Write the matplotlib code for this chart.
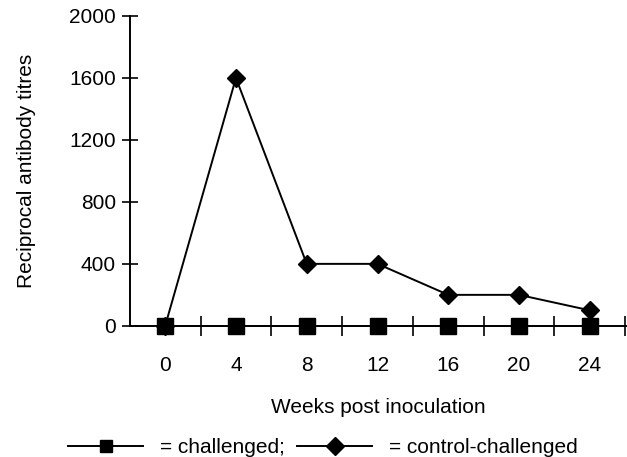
import matplotlib
matplotlib.use('Agg')
import matplotlib.pyplot as plt
from matplotlib.lines import Line2D

weeks = [0, 4, 8, 12, 16, 20, 24]
challenged = [0, 0, 0, 0, 0, 0, 0]
control_challenged = [0, 1600, 400, 400, 200, 200, 100]
y_ticks = [0, 400, 800, 1200, 1600, 2000]
x_minor = [2, 6, 10, 14, 18, 22, 26]

plt.rcParams['font.family'] = ['Liberation Sans', 'DejaVu Sans']
fs = 15

fig = plt.figure(figsize=(6.27, 4.57), dpi=100)
ax = fig.add_axes([0.207, 0.287, 0.793, 0.678])

ax.plot(weeks, control_challenged, color='black', lw=1.4, marker='D',
        markersize=9, clip_on=False, zorder=3)
ax.plot(weeks, challenged, color='black', lw=1.4, marker='s',
        markersize=11, clip_on=False, zorder=4)

ax.set_xlim(-2, 26.1)
ax.set_ylim(0, 2000)

for s in ['top', 'right']:
    ax.spines[s].set_visible(False)
for s in ['left', 'bottom']:
    ax.spines[s].set_linewidth(1.4)

ax.set_yticks(y_ticks)
ax.tick_params(axis='y', direction='inout', length=12, width=1.2, labelsize=fs, pad=4)
ax.set_xticks(weeks)
ax.set_xticks(x_minor, minor=True)
ax.tick_params(axis='x', which='major', length=0, labelsize=fs, pad=22)
ax.tick_params(axis='x', which='minor', direction='inout', length=14, width=1.2)

ax.set_xlabel('Weeks post inoculation', fontsize=fs, labelpad=16)
ax.set_ylabel('Reciprocal antibody titres', fontsize=fs, labelpad=24)

handles = [
    Line2D([], [], color='black', lw=1.4, marker='s', markersize=9),
    Line2D([], [], color='black', lw=1.4, marker='D', markersize=9),
]
fig.legend(handles, ['= challenged;', '= control-challenged'], ncol=2,
           loc='center', bbox_to_anchor=(0.515, 0.02), frameon=False,
           fontsize=fs, handlelength=3.6, columnspacing=0.6, handletextpad=0.8)

fig.savefig('out.png', dpi=100)
